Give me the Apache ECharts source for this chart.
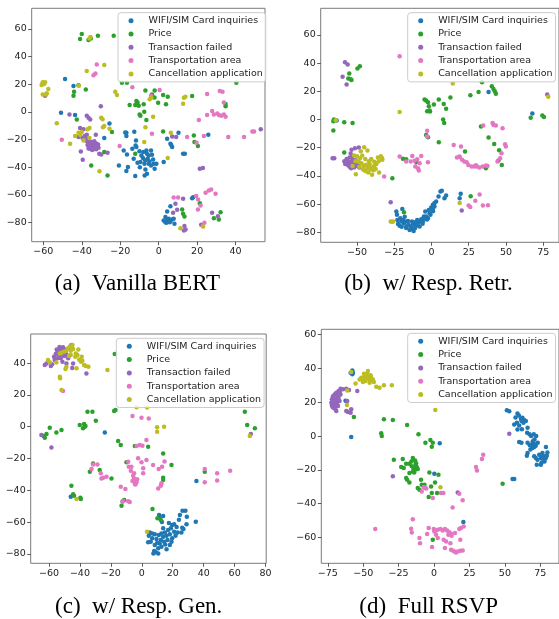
<!DOCTYPE html>
<html><head><meta charset="utf-8">
<script src="https://cdn.jsdelivr.net/npm/echarts@6/dist/echarts.min.js"></script>
<style>html,body{margin:0;padding:0;background:#fff}#c{width:559px;height:619px}</style>
</head><body><div id="c"></div>
<script>
const categories = ["WIFI/SIM Card inquiries","Price","Transaction failed","Transportation area","Cancellation application"];
const colors = ["#1f77b4","#2ca02c","#9467bd","#e377c2","#bcbd22"];
const captions = ["(a)  Vanilla BERT","(b)  w/ Resp. Retr.","(c)  w/ Resp. Gen.","(d)  Full RSVP"];
const xTicksA=[-60,-40,-20,0,20,40], yTicksA=[-80,-60,-40,-20,0,20,40,60];
const xTicksB=[-50,-25,0,25,50,75], yTicksB=[-80,-60,-40,-20,0,20,40,60];
const xTicksC=[-60,-40,-20,0,20,40,60,80], yTicksC=[-80,-60,-40,-20,0,20,40];
const xTicksD=[-75,-50,-25,0,25,50,75], yTicksD=[-60,-40,-20,0,20,40,60];

// (a) Vanilla BERT
const a_wifi=[[-48.7,23.8],[-44.3,18.7],[-50.8,-0.6],[-43.5,-2.3],[-25.6,-8.3],[-28.3,-18.9],[-16.8,-15.1],[-16.8,-17.5],[-11.8,-20.6],[-18.2,-27.9],[-16.5,-30.8],[-13,-33.9],[-11.6,-25.4],[-12,-24.3],[-13.7,-26.6],[-16,-39.9],[-20.7,-38.7],[-16.8,-42.8],[-12.2,-46.4],[-11,-36.8],[-9,-31.5],[-8.2,-33.4],[-6.4,-27.9],[-6.1,-30.3],[-4,-27.9],[-5.2,-31.5],[-5.7,-33.9],[-7.4,-37.5],[-5.2,-37.5],[-2.9,-34.4],[-2.6,-37.5],[-4,-38.7],[-6.9,-41.6],[-6.1,-44.8],[-7.3,-46],[-1.2,-37.5],[-2.1,-41.1],[-4.8,-35.8],[-9.5,-36.3],[2.6,-36.3],[4.4,-19.4],[6.1,-23],[7,-25.4],[6.5,-24],[10.3,-15.1],[12.7,-30.3],[13.6,-30.3],[25.8,-16.5],[17.4,-62.4],[17.9,-61.8],[6.1,-68.2],[4.4,-72],[3.5,-76.1],[2.6,-78.5],[4.4,-78.5],[5.2,-77.3],[6.1,-78.5],[7,-77.8],[4,-80.2],[7.8,-77.3],[8.2,-81],[5.8,-79.8],[3.5,-79.8],[-17.4,-14.9],[-12.7,-14.4],[-8,-29],[-10,-28.5],[-3.5,-31],[-7,-35],[-9.8,-40]];
const a_price=[[-40,56.4],[-40.9,52.8],[-36.5,52],[-35.3,53.2],[-31.6,55.2],[-23.4,55.2],[-19.1,21.1],[-16.5,21.1],[40.4,21.1],[-41.7,19.4],[-44,14.6],[-44.3,11.7],[-37.9,16.3],[-6.9,15.6],[-2.1,15.6],[-3.5,12.7],[-2.2,10.5],[-0.3,6.7],[2.3,12.2],[3.8,5.5],[4.7,11],[17.4,11.5],[-15.1,5],[-12.2,5],[-11.6,7.9],[-11,6.9],[-10.4,4.5],[-9.9,-1.8],[-7.8,5.5],[-7.5,0.1],[-6.4,-5.9],[-9.5,-2.8],[34.8,5.7],[34.8,4.2],[-42.6,-5.4],[-28.3,-29],[-24.3,-14.6],[-35.1,-38.7],[-26.6,-46],[2.3,-14.1],[18.3,-17],[18.6,-21.8],[20.4,-24.7],[21.4,-66],[12.2,-70.6],[12.7,-73.7],[13.4,-75.6],[32.2,-72.5],[28.7,-76.9],[31.3,-77.8],[-12.2,-30.3]];
const a_failed=[[-59.1,11.7],[-30.1,4.2],[-46.4,-1.8],[-37.4,-2.8],[-36.5,-4.2],[-35.6,-5.4],[-40.9,-11.7],[-39.1,-12.6],[-41.7,-18.2],[-39.6,-18.9],[-37.4,-16.5],[-32.7,-16.5],[-40.5,-28.6],[-39.5,-34.6],[-30.9,-30.3],[-29.9,-30.8],[-26.6,-29.5],[7,-17.7],[9.1,-18.2],[21.4,-41.1],[23,-40.6],[53.1,-12.6],[8.7,-66.5],[9.6,-70.8],[7.5,-73],[13.4,-82.6],[13.1,-85.8],[14,-85],[22.1,-81.7],[27.8,-73],[30.8,-75.4],[12.7,-62.9],[-37.5,-21],[-36.5,-22.5],[-35.5,-21.5],[-34.5,-22],[-33.5,-21.2],[-32.5,-22.8],[-31.5,-23.5],[-37,-24],[-36,-25],[-35,-24.5],[-34,-25.5],[-33,-24],[-32,-25],[-31.3,-26],[-36.5,-26.5],[-35.5,-26.8],[-34.5,-27.5],[-33.5,-26.5],[-32.5,-27],[-35.2,-23.2],[-33.8,-23.4],[-36.2,-23.3],[-37.2,-19.5],[-38.5,-17.5]];
const a_transport=[[-32.2,34.4],[-32.9,27.9],[-33.9,26.5],[-13.7,17.8],[0.5,15.8],[-4,11.7],[25.2,12.9],[31.8,15.1],[33.2,14.6],[33.9,6.9],[27.8,0.6],[28.7,-1.8],[30.5,-1.1],[31.3,-2.3],[32.5,-2.8],[33.9,-1.8],[34.8,-3.5],[25.2,-2.3],[20.9,-5.9],[-50.4,-20.1],[-20.3,-24.7],[-3.5,-15.8],[14.8,-18.2],[19.7,-22.3],[23.5,-17.5],[36.2,-18.2],[44.4,-18.2],[48.7,-14.1],[49.6,-14.1],[7.8,-61.9],[10.1,-61.9],[19.5,-60.9],[20.5,-63.3],[24.4,-58.5],[26.1,-56.8],[27.3,-56.1],[29.6,-59.2],[21.8,-67.7],[20.4,-70.6],[23.8,-80.2],[23,-82.6]];
const a_cancel=[[-36,53.2],[-35.5,54.2],[-28.3,33.9],[-37.4,29.6],[-60.3,21.4],[-59.6,20.2],[-60.9,19.5],[-59.1,21.4],[-57.4,16.6],[-60.3,12.7],[-58.6,12.7],[-58.2,13.6],[-41.5,19],[-22.6,14.6],[-21.7,12.2],[-4.7,9.1],[-3.8,10.3],[12.7,5.9],[13.1,10.3],[13.9,11],[-2.9,-3.5],[-29.9,-4.2],[-29.2,-5.2],[-53,-8.1],[-46.1,-23],[-43.5,-17.5],[-41.7,-15.1],[-40.9,-16.5],[-40,-14.6],[-39.1,-20.6],[-37,-12.6],[-36,-11.7],[-36,-18.9],[-29,-11],[-28.3,-10.2],[-25.6,-12.2],[-30.8,-43],[-6.9,-11],[-7.5,-21.8],[4.7,-33.4],[11.3,-84.1],[23.1,-82.9],[6.3,-15]];

// (b) w/ Resp. Retr.
const b_wifi=[[38.3,19.6],[67.7,4.3],[-63.7,-0.7],[-23.6,-65.2],[-23.2,-67.6],[-22.9,-71.2],[-22.5,-74.2],[-21.4,-75.4],[-19.6,-63.4],[-19.2,-71.2],[-18.5,-73.5],[-17.6,-72.3],[-16.9,-75.9],[-15.8,-71.9],[-14.7,-78.3],[-13.6,-77.5],[-12.5,-74.7],[-11.4,-72.8],[-10.2,-75.2],[-9.1,-73.5],[-8,-75.9],[-6.9,-70.7],[-5.8,-72.3],[-4.7,-70],[-4.2,-65.2],[-3.6,-68.8],[-2.4,-70],[-1.8,-64.1],[-0.7,-67.6],[-0.2,-62.4],[0.9,-60.5],[2,-59.3],[3.1,-58.2],[4.7,-54.6],[6,-51.1],[6.9,-50.6],[8.7,-55.8],[9.8,-53.9],[18.9,-55.8],[19.6,-52.7],[-20.3,-72.3],[-15.4,-74.7],[-13.1,-72.3],[-9.6,-71.2],[-7.4,-72.3],[-5.1,-68.8],[-1.3,-66.4],[0.9,-63.4],[2,-61.7],[-21,-70],[-17,-77],[-12,-79],[-14,-76],[-11,-77],[-3,-71],[-6,-74],[1,-65],[-20,-76],[-18,-69]];
const b_price=[[-55.2,32.6],[-55.9,29.1],[-54.3,28.6],[-53.7,28.1],[-49.7,36.2],[-48.1,37.8],[33.9,26.5],[26.1,17.3],[31.6,19.6],[40.5,23.6],[41.6,21.7],[42.5,20.1],[43.2,18.4],[12.7,15.6],[-4.7,14.2],[-3.6,13.5],[-2.4,12.3],[-1.8,9.5],[-2.9,5.9],[-1.3,6.4],[1.6,10.6],[4.9,14.2],[8.2,11.1],[9.8,7.6],[-65.9,-1.2],[-65.5,0],[-58.6,-1.9],[-53,-2.4],[66.6,1.2],[74.4,2.8],[75.5,1.9],[8.5,-2.4],[7.8,0],[-65.9,-7.8],[33.2,-5],[-3.6,-10.9],[-2.4,-12.5],[4.9,-16.1],[38.3,-12.8],[-58.6,-23.4],[42.1,-17.3],[45.4,-21.8],[45,-29.1],[47.2,-32.2],[22.5,-22.7],[-19.2,-27.9],[-17,-28.1],[-10.2,-30.3],[-26.3,-41.6],[36.5,-34.5],[-18.5,-65.7],[26.3,-54.4],[-1,5.8]];
const b_failed=[[-58.1,40.7],[-56.3,39],[-59.7,30.3],[-57,24.8],[77.7,17.7],[-66.4,-27.4],[-65.3,-27.4],[-27.4,-58.6],[20.3,-64.5],[-53.7,-21.5],[-51.4,-20.3],[-48.8,-19.9],[-58.5,-29.5],[-57.5,-30.5],[-56.5,-29],[-55.5,-30],[-54.5,-31.5],[-53.5,-30],[-52.5,-32],[-51.5,-31],[-50.5,-33],[-49.5,-32],[-56,-32.5],[-55,-33.5],[-54,-34.5],[-52,-34],[-57,-28],[-55,-27],[-53.2,-26],[-54.3,-24],[-51,-28.8],[-49,-30.2],[-48.5,-34],[-58,-31.5],[-53,-28.5]];
const b_transport=[[-21.4,44.9],[41,-2.4],[-2.9,-8],[34.7,-4.3],[41.6,-3.8],[43.2,-4.3],[47.7,-6.1],[14.9,-18],[19.8,-19.1],[17.1,-27],[18.7,-26.2],[20.5,-28.5],[22,-29.8],[23.6,-30.3],[24.7,-32.2],[26.9,-33.3],[28.7,-33.3],[30.5,-33.3],[32.1,-34],[34.3,-33.3],[36.5,-32.6],[37.6,-32.9],[44.3,-29.8],[46.1,-27.4],[47,-23.9],[49.4,-17.5],[49.9,-19.1],[-21.4,-26.2],[-17,-29.8],[-12.9,-25.8],[-11.4,-29.3],[-9.6,-28.1],[-6.9,-25.8],[-8,-31],[-10.9,-33.3],[-9.1,-34.5],[-8.5,-36.2],[-2.4,-30.3],[-14,-29.8],[-31.8,-40.4],[29.4,-57.7],[32.3,-53.2],[24.9,-61],[26,-62],[34.5,-61],[37.9,-60.8],[-3,-12],[19,-26.5],[29.8,-32.5]];
const b_cancel=[[14.3,25.5],[-21.4,5.4],[-64.3,-0.5],[78.4,16.1],[-27.4,-72.3],[-25.8,-72.3],[-26.5,-72.5],[18.9,-59.3],[-45.2,-19.6],[-33.2,-27.4],[-35.2,-37.6],[-39.9,-39.2],[-50.8,-38.8],[-52,-25.5],[-50,-26],[-48,-27.5],[-46.5,-25.5],[-44.5,-28],[-42,-29.5],[-40.5,-28],[-38.5,-30],[-37,-31.5],[-35.5,-29.5],[-36,-27],[-34,-26],[-33,-28.5],[-47,-31],[-45.5,-33],[-44,-32],[-43,-34.5],[-42,-33],[-41,-35.5],[-40,-34],[-39,-36],[-46,-35.5],[-48.5,-33.5],[-44.5,-36.5],[-42.5,-37.5],[-38.5,-33],[-37.5,-35],[-41.5,-31.5],[-49,-30],[-51,-29.5],[-53,-33],[-47.5,-22.5],[-43,-22]];

// (c) w/ Resp. Gen.
const c_wifi=[[-23.9,-3.6],[35.3,-34.2],[-45.9,-44],[26.3,-52.8],[28.2,-52.8],[24.6,-55.5],[29.1,-56.6],[34.9,-59.7],[11.2,-55.5],[13.8,-56.2],[11.6,-57.6],[19.6,-61.8],[20.9,-61.4],[18.8,-63.9],[17,-65],[26.1,-63.5],[26.9,-64.4],[25.6,-66.5],[23.1,-66.5],[20.9,-66],[28.9,-61.4],[13.8,-63.9],[14.9,-66.5],[12.7,-67.1],[11,-68.1],[13.8,-69.2],[16,-68.5],[18.1,-67.7],[19.6,-70.2],[19.2,-72.3],[18.1,-74.4],[8.4,-67.7],[6.7,-70.2],[5.8,-72.3],[4.1,-72.7],[4.5,-68.5],[8.4,-74.4],[11.6,-73.4],[14.4,-72.3],[10.6,-76.5],[8,-78.2],[9.1,-79],[10.6,-79.7],[7.5,-79.7],[12.7,-75.5],[16.6,-71.3],[21.8,-68.5],[6.7,-67.1],[5.2,-66.5],[15.1,-74],[9.5,-70.6],[12.3,-71.3],[22.5,-63],[17.5,-60.5],[10,-73],[16,-77],[13,-60],[24,-58.5]];
const c_price=[[-17.5,45.7],[-35.1,9.4],[-31.9,9.4],[-29.7,3.8],[-17.9,9.9],[-17,10.5],[-37.3,1.7],[-40.1,1],[-36.9,0],[-38,-1],[-36.4,0.4],[-59.5,-0.6],[-63.4,-5.9],[-62.7,-6.9],[-61.6,-4.6],[-55.2,-3.6],[-51.9,-2.1],[-15.3,-9],[-13.6,-11.5],[-4.5,-12.2],[4.1,-12.6],[66.6,9.4],[68.1,1],[73.1,-1],[13.8,-16.8],[19.2,-24.1],[13.8,-32.1],[13.8,-33.5],[-31.5,-23.1],[-27.2,-27.3],[-33.6,-28.3],[-19.6,-32.5],[-9.9,-22.4],[-45.5,-37.1],[-44.4,-42.5],[-43.8,-43.4],[-39.7,-44.7],[-39.4,-45.5],[-13.1,-49.7],[-11.4,-46.1],[6.9,-51.8],[10.1,-57.6],[12.3,-58.7],[40.7,-28.3]];
const c_failed=[[-62.7,38.8],[-61.6,39.8],[-58.8,38.2],[-58,39.2],[-56.7,44],[-55.6,45.7],[-54.5,47.2],[-53.7,48.2],[-51.9,49.3],[-50.9,49.9],[-49.8,48.6],[-53,45.1],[-51.5,46.1],[-50.2,44.4],[-49.1,46.1],[-56.3,41.9],[-54.5,43],[-52.4,43],[-51.3,40.9],[-47.6,43],[-48.7,39.8],[-45.5,51.4],[-44.4,39.8],[-45,36.9],[-35.8,33.5],[-58.4,-13],[-64.9,-5.2],[70.5,-4.6],[-12.5,-47],[-52.5,47.5],[-50.5,47],[-54,45.8],[-48.5,45],[-55,48.5],[-53.2,50.2],[-46.8,49.2]];
const c_transport=[[-6,6.7],[-0.2,5.7],[4.5,5.2],[-1.3,-11.5],[0.4,-11.9],[3,-8.4],[-3.4,-12.2],[-31.5,-23.7],[-28.7,-23.7],[-32.5,-26.6],[-26.5,-29.3],[-26.1,-32.5],[-25,-32.1],[-22.8,-31.4],[-8.8,-22],[-8.4,-25.2],[-6.7,-25.2],[-7.1,-27.7],[-5.6,-30.8],[-5,-32.5],[-4.5,-34.6],[-4.1,-36.3],[-3.4,-35],[-6,-34.2],[-5,-29.3],[-2.4,-19.9],[-0.2,-22.4],[0.9,-26.2],[0.9,-29.3],[3,-20.9],[7.3,-24.1],[10.9,-26.6],[13.1,-25.2],[14.7,-21.9],[12.7,-35.6],[12.3,-37.1],[10.6,-38.8],[-13.6,-37.7],[-10.6,-39.2],[-12.1,-46.8],[-8.8,-46.8],[-7.8,-47.3],[40.7,-26.6],[40.7,-35],[48.7,-29.3],[48.7,-33.9],[57.1,-27.7],[-50.9,22.4],[-4.5,-36],[-3,-33]];
const c_cancel=[[-53,46.1],[-51.9,46.5],[-50.4,47.2],[-48.7,47.8],[-47.6,49.3],[-46.6,50.3],[-44.8,51.4],[-44.4,48.8],[-45.9,47.8],[-42.7,46.1],[-41.6,45.1],[-45.9,45.1],[-40.5,42.3],[-39.4,40.9],[-38.4,41.5],[-37.3,38.8],[-36.2,38.2],[-34.5,37.7],[-42.2,36.7],[-48.7,37.7],[-49.3,36.3],[-53,31.4],[-52.8,30.4],[-51.9,23.1],[-60.6,41.9],[-59.5,40.5],[-55.2,40.3],[-22.2,35.6],[-3.4,12.2],[3.4,12],[9.9,-0.4],[14.4,0],[9.9,-3.1],[69.8,-5.9],[3.4,-66],[-42.2,-45.5],[-43,44],[-47,44.5],[-41,48.5],[-38.8,44]];

// (d) Full RSVP
const d_wifi=[[-57.7,38.8],[-57.3,37.4],[-57.7,36.5],[-58.9,37.4],[-58.5,-0.6],[4,-4.3],[0.2,-22.3],[20.7,-50.8],[55.4,-25.4],[56.6,-25.4],[-62.5,20.8],[51.4,15.2],[53.1,14.6],[58.9,13.4],[59.9,12.2],[61.3,10.2],[62.4,10.8],[63.6,9.5],[64.8,8.9],[61.7,8.9],[58.5,7.9],[56.6,6.9],[60.1,6.3],[63.1,7.9],[58.9,3.9],[66,4.9],[65.7,2],[67.4,1],[68.5,0],[70.4,1],[70.9,-2],[72.1,0],[69.7,-3],[66,-3.9],[60.1,-3.5],[61.7,-3.9],[73.2,-3.9],[67.6,-5.5],[69.5,-4.9],[71.1,-4.9],[68.3,-5.1],[69.5,-7.1],[70.7,-6.5],[71.8,-5.7],[66,-10],[65.5,-11.6],[70.7,-12],[71.8,-13],[73,-14],[74.2,-11],[76.5,-10],[75.4,-13],[77.7,-12],[78.9,-13],[79.6,-11.6],[80,-9.7],[79,-6.5],[72.5,-16.9],[75.4,-16.9],[75.9,-15.6],[77.7,-14],[57.5,11],[62,4],[68,-8],[76,-12],[78,-15]];
const d_price=[[-56.6,11.2],[-35.4,9.9],[-29.1,9.5],[-19,6.5],[-37.3,1.6],[-36.9,0],[-11,1],[-6.1,-3.9],[-2.6,-2.4],[-0.9,-3.9],[-1.6,-6.3],[-28.4,-14],[-22.1,-13.6],[-15,-13],[-13.4,-14.4],[-12.7,-16],[-23.2,-18.3],[-21.4,-18.9],[-19.7,-16.4],[-17.4,-16.4],[-15.7,-17.9],[-14.6,-18.9],[-13.4,-19.9],[-12.2,-18.3],[-11.5,-19.5],[-15,-20.9],[-17.4,-21.9],[-19.7,-24.8],[-19,-25.8],[-17.4,-27.4],[-9.2,-25.8],[-6.8,-28.8],[-11.5,-30.7],[-10.3,-31.7],[-3.3,-21.5],[-2.1,-29.8],[0.7,-27.4],[3.1,-22.9],[-1.6,-33.7],[2.1,-33.7],[-3.8,-36],[-6.3,-30.7],[-8.7,-28.8],[-0.9,-61.3],[48.4,-28.2],[-16,-15],[-14,-21.5],[-13,-17]];
const d_failed=[[-64.3,27.6],[-66,28],[-67.4,26.6],[-69,25.6],[-70.2,24.6],[-71.4,23.6],[-72.1,21.7],[-72.5,19.7],[-72.1,18.1],[-70.7,16.7],[-69.7,15.8],[-69,14.8],[-67.8,17.7],[-68.3,20.1],[-67.4,22.7],[-66.7,20.7],[-69,22.1],[-70.2,20.1],[-70.7,18.7],[-67.8,24],[-66,24.6],[-71,22],[-68.5,18.5],[-69.5,17.5],[-70.5,21.5],[-62,28],[-60.1,27.2],[-54.2,26.6],[-61.3,20.7],[-62,14.8],[-60.8,14.2],[-58.9,13.8],[-58.5,15.8],[53.1,1.4],[-29.1,-23.8],[16.7,-33.3],[-71.5,17],[-68,23.5],[-66.5,26]];
const d_transport=[[-7.3,-30.3],[-8.7,-32.7],[4.9,-33.7],[6.6,-33.7],[17.8,-34.1],[20.2,-38],[-0.9,-36.6],[13.1,-42.2],[29.6,-18.3],[30.3,-20.3],[33.8,-13.6],[34.7,-11],[-41.5,-55],[-15,-49.1],[-16.2,-54.8],[-15.7,-57],[-10.3,-60.3],[-9.9,-63.3],[-4.9,-57.9],[-3.8,-54.4],[-1.4,-65.6],[-0.2,-55],[0.2,-56.4],[1.4,-55.8],[2.6,-55.4],[4.5,-55],[6.1,-55.8],[7.7,-55],[9.2,-55.8],[10.8,-56.9],[12,-57.7],[12.4,-58.9],[10.1,-58.3],[1.4,-58.3],[2.6,-60.3],[6.8,-61.3],[8.5,-62.3],[11.5,-63.3],[14.8,-57.3],[17.8,-54.9],[19,-54.4],[20.9,-53.4],[18.5,-61.3],[7.7,-66.2],[12,-67.2],[13.1,-67.6],[14.3,-68.2],[15.5,-68.8],[16.7,-68.2],[18.5,-67.8],[20.2,-67.6],[-5.5,-31],[-6.5,-30.5]];
const d_cancel=[[-58.5,37.8],[-52.6,33.5],[-51.4,34.5],[-50.2,33.1],[-49.1,35.1],[-47.9,33.9],[-46.7,38.4],[-46.2,35.9],[-45.5,33.5],[-44.4,34.5],[-43.2,33.5],[-48.4,32.5],[-50.2,31.9],[-55.4,31.1],[-45.5,31.5],[-42.5,31.9],[-40.8,29.2],[-38.5,28.6],[-35.4,30],[-29.8,30],[-61.3,27],[-61.5,18.3],[0.9,15.4],[4.5,-30.3],[-48,36.5],[-47,34.5],[-44.8,36],[-49.5,36.8],[-43.8,32.8]];

const panels = [
  {series:[a_wifi,a_price,a_failed,a_transport,a_cancel], xt:xTicksA, yt:yTicksA, xr:[-66.05,55.3], yr:[-93.9,75.0],
   grid:{left:31.7,top:8.3,width:233.3,height:233.4}, legend:{left:118,top:12.7}, cap:[137.5,284]},
  {series:[b_wifi,b_price,b_failed,b_transport,b_cancel], xt:xTicksB, yt:yTicksB, xr:[-74.4,85.6], yr:[-87.1,78.95],
   grid:{left:320.7,top:8.3,width:239,height:234}, legend:{left:407.7,top:12.7}, cap:[428.5,284]},
  {series:[c_wifi,c_price,c_failed,c_transport,c_cancel], xt:xTicksC, yt:yTicksC, xr:[-71.8,80.4], yr:[-85.9,58.3],
   grid:{left:30.7,top:334,width:235.5,height:229.3}, legend:{left:116.3,top:338.3}, cap:[138.7,607]},
  {series:[d_wifi,d_price,d_failed,d_transport,d_cancel], xt:xTicksD, yt:yTicksD, xr:[-79.6,88.2], yr:[-75.2,63.1],
   grid:{left:321.3,top:329.3,width:238.5,height:234}, legend:{left:407.7,top:333.3}, cap:[428.7,607]}
];

const FONT = 'DejaVu Sans';
const fmt = v => String(v).replace('-', '\u2212');
const option = {animation:false, backgroundColor:'#fff', grid:[], xAxis:[], yAxis:[], series:[], legend:[], graphic:[]};
panels.forEach((p, i) => {
  option.grid.push(Object.assign({show:true, borderColor:'#7a7a7a', borderWidth:1, backgroundColor:'transparent', containLabel:false}, p.grid));
  const axisCommon = (ticks) => ({
    type:'value', gridIndex:i, scale:true,
    axisLine:{show:false, onZero:false},
    axisTick:{show:true, inside:false, length:3.5, customValues:ticks, lineStyle:{color:'#333', width:0.8}},
    axisLabel:{show:true, customValues:ticks, margin:5, formatter:fmt, fontFamily:FONT, fontSize:9.5, color:'#222'},
    splitLine:{show:false}
  });
  option.xAxis.push(Object.assign(axisCommon(p.xt), {min:p.xr[0], max:p.xr[1]}));
  option.yAxis.push(Object.assign(axisCommon(p.yt), {min:p.yr[0], max:p.yr[1]}));
  p.series.forEach((d, k) => {
    option.series.push({type:'scatter', name:categories[k], xAxisIndex:i, yAxisIndex:i, data:d,
      symbol:'circle', symbolSize:4.5, itemStyle:{color:colors[k], opacity:1}, emphasis:{disabled:true}});
  });
  option.legend.push({data:categories, orient:'vertical', left:p.legend.left, top:p.legend.top,
    icon:'circle', itemWidth:5, itemHeight:5, itemGap:3.3, padding:[3,3,3,10.5], selectedMode:false,
    borderColor:'#cccccc', borderWidth:1, borderRadius:3, backgroundColor:'rgba(255,255,255,0.8)',
    textStyle:{fontFamily:FONT, fontSize:9.5, color:'#222', lineHeight:10, padding:[0,0,0,10]}});
  option.graphic.push({type:'text', x:p.cap[0], y:p.cap[1], style:{text:captions[i], fontFamily:'Liberation Serif',
    fontSize:23, fill:'#000', align:'center', verticalAlign:'middle'}});
});
const chart = echarts.init(document.getElementById('c'), null, {renderer:'canvas'});
chart.setOption(option);
</script></body></html>
